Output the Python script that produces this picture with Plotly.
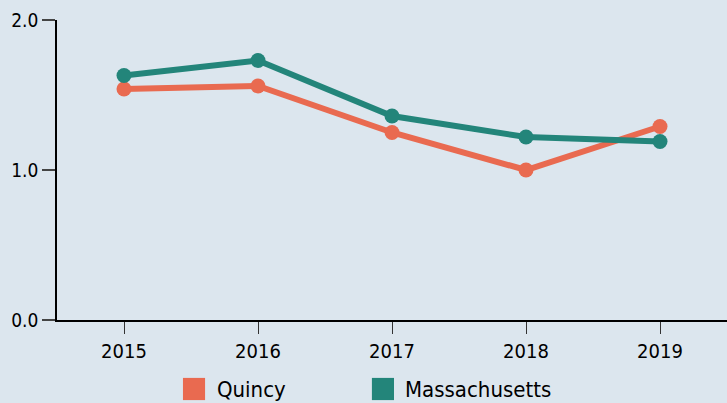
import plotly.graph_objects as go

years = [2015, 2016, 2017, 2018, 2019]
quincy = [1.54, 1.56, 1.25, 1.00, 1.29]
massachusetts = [1.63, 1.73, 1.36, 1.22, 1.19]
series_names = ["Quincy", "Massachusetts"]
y_ticks = [0.0, 1.0, 2.0]

BG = "#DCE6EE"
C_Q = "#E96A50"
C_M = "#23857A"
FONT = "DejaVu Sans Condensed, DejaVu Sans, sans-serif"

fig = go.Figure()
fig.add_trace(go.Scatter(x=years, y=quincy, name=series_names[0], mode="lines+markers",
                         line=dict(color=C_Q, width=6), marker=dict(color=C_Q, size=15),
                         showlegend=False))
fig.add_trace(go.Scatter(x=years, y=massachusetts, name=series_names[1], mode="lines+markers",
                         line=dict(color=C_M, width=6), marker=dict(color=C_M, size=15),
                         showlegend=False))

# legend drawn as swatches + text
legend_items = [(series_names[0], C_Q, 0.188, 0.236), (series_names[1], C_M, 0.470, 0.516)]
for name, col, xs, xt in legend_items:
    fig.add_shape(type="rect", xref="paper", yref="paper", x0=xs, x1=xs + 0.033,
                  y0=-0.267, y1=-0.193, fillcolor=col, line=dict(width=0))
    fig.add_annotation(xref="paper", yref="paper", x=xt, y=-0.232, text=name,
                       showarrow=False, xanchor="left", yanchor="middle",
                       font=dict(size=22, color="black", family=FONT))

fig.update_layout(
    width=727, height=403,
    paper_bgcolor=BG, plot_bgcolor=BG,
    margin=dict(l=57, r=0, t=20, b=83),
    font=dict(family=FONT, color="black"),
    xaxis=dict(range=[2014.5, 2019.5], tickvals=years, ticktext=[str(y) for y in years],
               showgrid=False, zeroline=False, showline=True, linecolor="black", linewidth=1.5,
               ticks="outside", ticklen=12, tickcolor="#333", tickwidth=1,
               tickfont=dict(size=20, family=FONT)),
    yaxis=dict(range=[0, 2], tickvals=y_ticks, tickformat=".1f",
               showgrid=False, zeroline=False, showline=True, linecolor="black", linewidth=1.5,
               ticks="outside", ticklen=13, tickcolor="#444", tickwidth=1.5,
               tickfont=dict(size=19, family=FONT)),
)

fig.write_html("out.html", config={"displayModeBar": False},
               post_script="document.body.style.margin='0';document.body.style.background='%s';" % BG)
